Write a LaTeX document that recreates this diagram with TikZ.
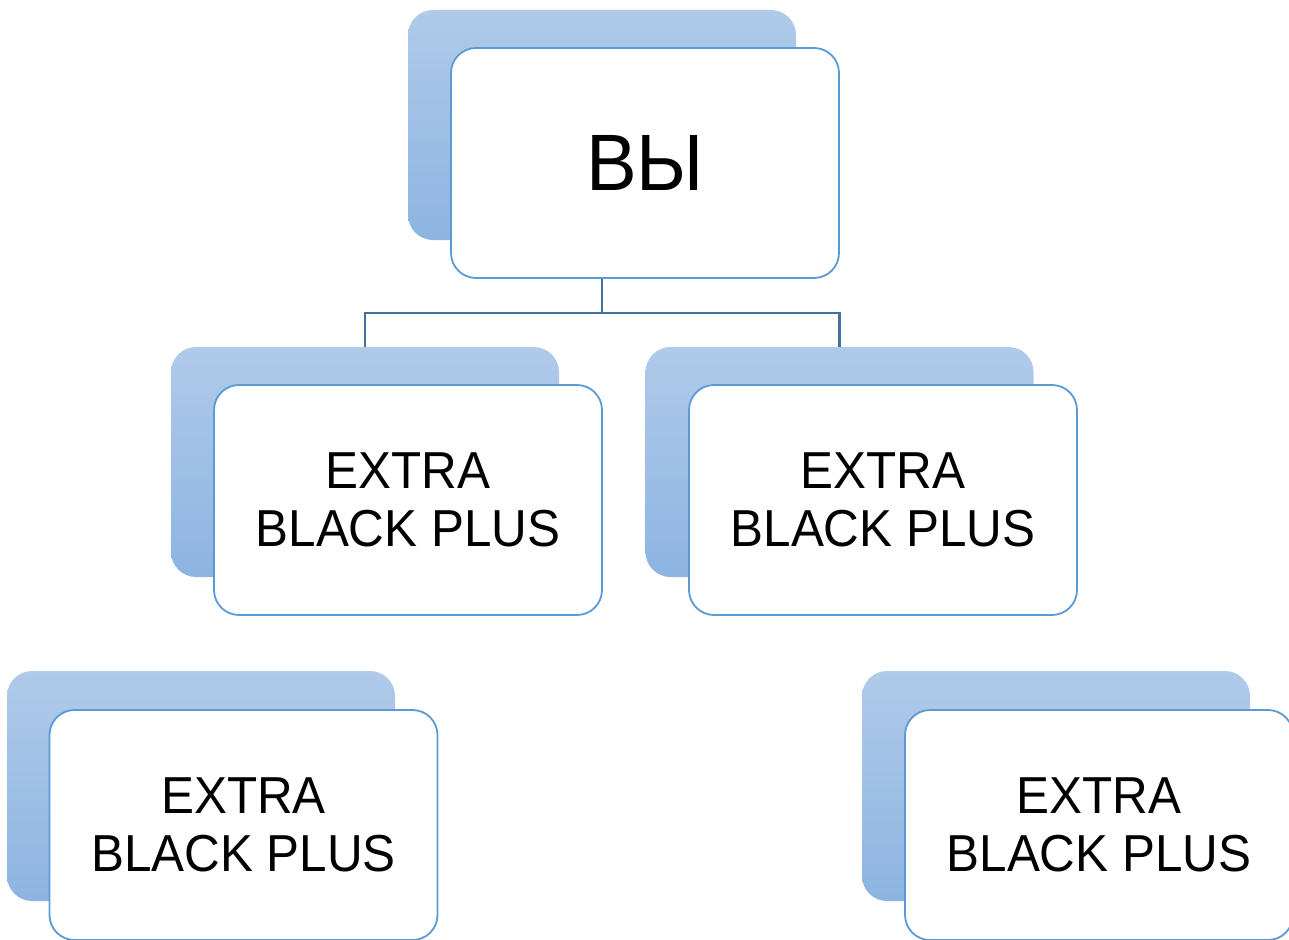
\documentclass[tikz,border=0pt]{standalone}
\usepackage{fontspec}
\setmainfont[FakeStretch=0.95]{Liberation Sans}
\definecolor{backtop}{RGB}{176,202,233}
\definecolor{backbot}{RGB}{141,180,226}
\definecolor{frontline}{RGB}{91,155,213}
\definecolor{linkcol}{RGB}{65,113,156}
\tikzset{
  backbox/.style={rectangle, rounded corners=25pt, minimum width=388pt, minimum height=230pt, inner sep=0pt, draw=none, top color=backtop, bottom color=backbot},
  frontbox/.style={rectangle, rounded corners=25pt, minimum width=388pt, minimum height=230pt, inner sep=0pt, fill=white, draw=frontline, line width=1.8pt, align=center, font=\fontsize{52}{58}\selectfont},
  topbox/.style={frontbox, font=\fontsize{80}{90}\selectfont},
  link/.style={draw=linkcol, line width=2.8pt}
}
\begin{document}
\begin{tikzpicture}[x=1pt,y=-1pt]
\useasboundingbox (0,0) rectangle (1289,939);
% top
\node[backbox] (topback) at (602,125) {};
\node[topbox] (top) at (645,163) {ВЫ};
% middle
\node[backbox] (lback) at (365,462) {};
\node[frontbox] (left) at (408,500) {EXTRA\\BLACK PLUS};
\node[backbox] (rback) at (839.5,462) {};
\node[frontbox] (right) at (883,500) {EXTRA\\BLACK PLUS};
% bottom
\node[backbox] (blback) at (201,786) {};
\node[frontbox] (bl) at (243.5,825) {EXTRA\\BLACK PLUS};
\node[backbox] (brback) at (1056,786) {};
\node[frontbox] (br) at (1099,825) {EXTRA\\BLACK PLUS};
% connectors
\coordinate (j) at (602,313);
\draw[link] (top.south -| topback.south) -- (j);
\draw[link] (lback.north) |- (j) -| (rback.north);
\end{tikzpicture}
\end{document}
